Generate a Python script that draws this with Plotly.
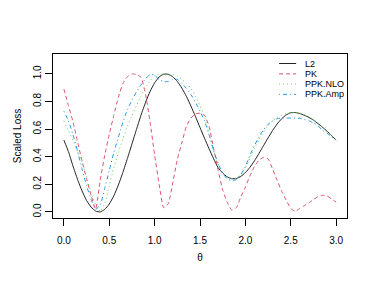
import plotly.graph_objects as go

theta = [round(i * 0.05, 2) for i in range(61)]

l2 = [0.52, 0.437, 0.333, 0.237, 0.152, 0.083, 0.035, 0.006, 0.000, 0.018,
      0.057, 0.117, 0.194, 0.286, 0.387, 0.492, 0.598, 0.701, 0.794, 0.873,
      0.935, 0.978, 0.998, 0.997, 0.979, 0.945, 0.897, 0.837, 0.767, 0.691,
      0.612, 0.533, 0.458, 0.385, 0.32, 0.282, 0.254, 0.241, 0.242, 0.257,
      0.285, 0.323, 0.370, 0.424, 0.48, 0.536, 0.590, 0.637, 0.675, 0.703,
      0.718, 0.72, 0.713, 0.70, 0.685, 0.665, 0.64, 0.613, 0.585, 0.553,
      0.52]

pk = [0.89, 0.77, 0.654, 0.51, 0.37, 0.24, 0.12, 0.02, 0.23, 0.41,
      0.56, 0.70, 0.83, 0.93, 0.98, 1.0, 0.995, 0.975, 0.85, 0.65,
      0.413, 0.20, 0.03, 0.06, 0.21, 0.38, 0.50, 0.62, 0.68, 0.71,
      0.715, 0.70, 0.62, 0.46, 0.30, 0.16, 0.07, 0.015, 0.03, 0.11,
      0.18, 0.26, 0.33, 0.375, 0.395, 0.385, 0.31, 0.23, 0.15, 0.085,
      0.025, 0.005, 0.025, 0.045, 0.065, 0.09, 0.11, 0.12, 0.115, 0.095,
      0.07]

ppk_nlo = [0.66, 0.59, 0.52, 0.44, 0.36, 0.25, 0.14, 0.05, 0.005, 0.06,
           0.19, 0.32, 0.43, 0.53, 0.62, 0.70, 0.77, 0.84, 0.90, 0.95,
           0.985, 1.0, 0.995, 0.99, 0.995, 0.985, 0.96, 0.93, 0.895, 0.84,
           0.77, 0.69, 0.565, 0.44, 0.35, 0.285, 0.25, 0.24, 0.245, 0.27,
           0.32, 0.39, 0.46, 0.525, 0.58, 0.625, 0.66, 0.685, 0.70, 0.712,
           0.72, 0.72, 0.715, 0.705, 0.69, 0.67, 0.645, 0.615, 0.585, 0.55,
           0.52]

ppk_amp = [0.73, 0.66, 0.56, 0.44, 0.31, 0.19, 0.09, 0.02, 0.05, 0.17,
           0.30, 0.43, 0.54, 0.65, 0.74, 0.81, 0.87, 0.92, 0.965, 0.995,
           0.99, 0.96, 0.943, 0.945, 0.962, 0.96, 0.93, 0.895, 0.85, 0.795,
           0.73, 0.66, 0.56, 0.445, 0.35, 0.28, 0.24, 0.226, 0.235, 0.27,
           0.33, 0.41, 0.48, 0.545, 0.595, 0.635, 0.66, 0.675, 0.68, 0.68,
           0.68, 0.68, 0.678, 0.67, 0.66, 0.645, 0.625, 0.59, 0.57, 0.545,
           0.52]

names = ["L2", "PK", "PPK.NLO", "PPK.Amp"]
colors = ["#222222", "#DF536B", "#61D04F", "#2297E6"]
dashes = ["solid", "4px,3px", "1px,3px", "1px,3px,4px,3px"]
series = [l2, pk, ppk_nlo, ppk_amp]

x_ticks = [0.0, 0.5, 1.0, 1.5, 2.0, 2.5, 3.0]
x_ticktext = ["0.0", "0.5", "1.0", "1.5", "2.0", "2.5", "3.0"]
y_ticks = [0.0, 0.2, 0.4, 0.6, 0.8, 1.0]
y_ticktext = ["0.0", "0.2", "0.4", "0.6", "0.8", "1.0"]

fig = go.Figure()
for name, vals, col, dsh in zip(names, series, colors, dashes):
    fig.add_trace(go.Scatter(x=theta, y=vals, mode="lines", name=name,
                             line=dict(color=col, width=1, dash=dsh, shape="spline", smoothing=0.5),
                             showlegend=False))

FONT = "Liberation Sans, Arial, sans-serif"

# manual legend (R-style, no box)
leg_y = [0.942, 0.879, 0.817, 0.754]
for name, col, dsh, yy in zip(names, colors, dashes, leg_y):
    fig.add_shape(type="line", xref="paper", yref="paper", x0=0.769, x1=0.827, y0=yy, y1=yy,
                  line=dict(color=col, width=1, dash=dsh))
    fig.add_annotation(xref="paper", yref="paper", x=0.852, y=yy, text=name, showarrow=False,
                       xanchor="left", yanchor="middle", font=dict(family=FONT, size=9, color="#000"))

# page body adds an 8px offset, so margins are shifted to compensate
fig.update_layout(
    width=374, height=285,
    margin=dict(l=45, r=35, t=46, b=75, autoexpand=False),
    plot_bgcolor="white", paper_bgcolor="white",
    font=dict(family=FONT, size=10, color="#000"),
    xaxis=dict(range=[-0.12, 3.12], tickvals=x_ticks, ticktext=x_ticktext, automargin=False,
               showgrid=False, zeroline=False, showline=True, linecolor="#000", linewidth=1,
               mirror=True, ticks="outside", ticklen=7, tickcolor="#000", ticklabelstandoff=6,
               title=dict(text="θ", standoff=8, font=dict(size=10))),
    yaxis=dict(range=[-0.044, 1.144], tickvals=y_ticks, ticktext=y_ticktext, tickangle=-90,
               automargin=False,
               showgrid=False, zeroline=False, showline=True, linecolor="#000", linewidth=1,
               mirror=True, ticks="outside", ticklen=7, tickcolor="#000",
               title=dict(text="Scaled Loss", standoff=8, font=dict(size=10))),
)

fig.write_html("out.html")
